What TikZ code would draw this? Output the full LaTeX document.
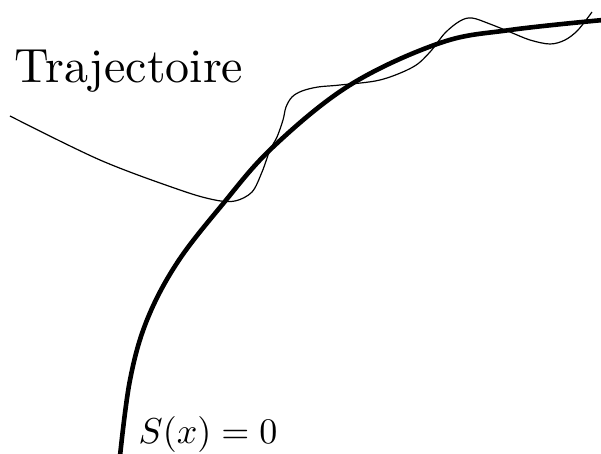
\documentclass[tikz,border=0pt]{standalone}
\begin{document}
\begin{tikzpicture}[x=1pt,y=-1pt,
  thickcurve/.style={line width=4.6pt},
  thincurve/.style={line width=1.2pt},
  lbl/.style={inner sep=0pt}]
\useasboundingbox (0,0) rectangle (601,454);
% surface S(x)=0
\draw[thickcurve] plot[smooth,tension=0.6] coordinates {(120,456) (130,380) (147,320) (177,263) (222,205) (273,147) (350,85) (440,43) (510,30) (603,20)};
% trajectory
\draw[thincurve] plot[smooth,tension=0.55] coordinates {(10,116) (100,160) (180,190) (215,200) (235,201) (252,192) (262,172) (270,150) (277,137) (283,120) (286,107) (292,97) (302,91) (318,87) (340,85) (380,80) (413,67) (430,52) (445,33) (460,21) (472,18) (490,24) (510,32) (530,40) (550,44) (565,40) (578,30) (592,12)};
\node[lbl,anchor=base west,scale=4.8] (traj) at (14,83) {Trajectoire};
\node[lbl,anchor=base west,scale=3.6] (surf) at (138,443) {$S(x)=0$};
\end{tikzpicture}
\end{document}
